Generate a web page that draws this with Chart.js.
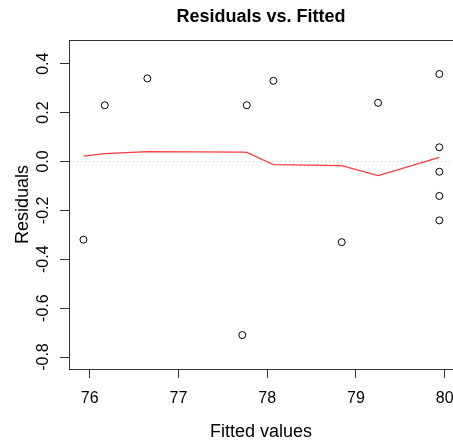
<!DOCTYPE html>
<html>
<head>
<meta charset="utf-8">
<script src="https://cdn.jsdelivr.net/npm/chart.js@4/dist/chart.umd.min.js"></script>
<style>
  html, body { margin: 0; padding: 0; background: #fff; }
  canvas { display: block; }
</style>
</head>
<body>
<canvas id="chart" width="453" height="443"></canvas>
<script>
// Valores ajustados e resíduos do modelo
const fitted = [75.93, 76.17, 76.65, 77.72, 77.77, 78.07, 78.84, 79.25, 79.94, 79.94, 79.94, 79.94, 79.94];
const residuals = [-0.32, 0.23, 0.34, -0.71, 0.23, 0.33, -0.33, 0.24, 0.358, 0.058, -0.042, -0.141, -0.241];

// Curva de suavização (lowess) sobre os valores ajustados
const smoothX = [75.93, 76.17, 76.65, 77.72, 77.77, 78.07, 78.84, 79.25, 79.94];
const smoothY = [0.022, 0.032, 0.040, 0.038, 0.037, -0.013, -0.017, -0.058, 0.017];

// Marcas dos eixos
const xTicks = [76, 77, 78, 79, 80];
const yTicks = [-0.8, -0.6, -0.4, -0.2, 0.0, 0.2, 0.4];

const FONT = '"Liberation Sans", Arial, sans-serif';
const AXIS_COLOR = '#333333';

// Título, moldura, linha de referência em zero e rótulos dos eixos no estilo do R
const rPlotPlugin = {
    id: 'rPlot',
    beforeDatasetsDraw(chart) {
        const { ctx, chartArea, scales } = chart;
        const y0 = scales.y.getPixelForValue(0);
        ctx.save();
        ctx.strokeStyle = '#c8c8c8';
        ctx.lineWidth = 1;
        ctx.setLineDash([1, 3]);
        ctx.beginPath();
        ctx.moveTo(chartArea.left, Math.round(y0) + 0.5);
        ctx.lineTo(chartArea.right, Math.round(y0) + 0.5);
        ctx.stroke();
        ctx.restore();
    },
    afterDraw(chart) {
        const { ctx, chartArea, scales } = chart;
        ctx.save();
        // moldura
        ctx.strokeStyle = AXIS_COLOR;
        ctx.lineWidth = 1;
        ctx.strokeRect(chartArea.left + 0.5, chartArea.top + 0.5,
            chartArea.right - chartArea.left, chartArea.bottom - chartArea.top);

        // título
        ctx.fillStyle = '#000';
        ctx.font = 'bold 18px ' + FONT;
        ctx.textAlign = 'center';
        ctx.textBaseline = 'middle';
        ctx.fillText('Residuals vs. Fitted', (chartArea.left + chartArea.right) / 2, 17);

        // rótulos do eixo x
        ctx.font = '16px ' + FONT;
        scales.x.ticks.forEach(t => {
            ctx.fillText(String(t.value), scales.x.getPixelForValue(t.value), chartArea.bottom + 30);
        });

        // rótulos do eixo y, girados
        scales.y.ticks.forEach(t => {
            const py = scales.y.getPixelForValue(t.value);
            ctx.save();
            ctx.translate(44, py);
            ctx.rotate(-Math.PI / 2);
            ctx.fillText(t.value.toFixed(1), 0, 0);
            ctx.restore();
        });
        ctx.restore();
    }
};

new Chart(document.getElementById('chart'), {
    type: 'scatter',
    data: {
        datasets: [
            {
                label: 'Resíduos',
                data: fitted.map((x, i) => ({ x: x, y: residuals[i] })),
                showLine: false,
                pointStyle: 'circle',
                pointRadius: 3.5,
                pointBackgroundColor: 'rgba(0,0,0,0)',
                pointBorderColor: '#000',
                pointBorderWidth: 1,
                order: 1
            },
            {
                label: 'Suavização',
                data: smoothX.map((x, i) => ({ x: x, y: smoothY[i] })),
                showLine: true,
                borderColor: '#ff3b3b',
                borderWidth: 1.2,
                pointRadius: 0,
                tension: 0,
                order: 2
            }
        ]
    },
    options: {
        responsive: false,
        animation: false,
        layout: { autoPadding: false, padding: { top: 40, left: 0, right: 0, bottom: 0 } },
        plugins: {
            legend: { display: false },
            tooltip: { enabled: false },
            title: { display: false }
        },
        scales: {
            x: {
                type: 'linear',
                min: 75.767,
                max: 80.094,
                afterBuildTicks: (scale) => { scale.ticks = xTicks.map(v => ({ value: v })); },
                afterFit: (scale) => {
                    scale.height = 74;
                    scale.paddingLeft = 0;
                    scale.paddingRight = 0;
                },
                border: { display: false },
                grid: {
                    drawOnChartArea: false,
                    drawTicks: true,
                    tickLength: 9,
                    color: AXIS_COLOR
                },
                ticks: { display: false },
                title: {
                    display: true,
                    text: 'Fitted values',
                    color: '#000',
                    font: { family: FONT, size: 18 },
                    padding: { top: 0, bottom: 0 }
                }
            },
            y: {
                type: 'linear',
                min: -0.849,
                max: 0.497,
                afterBuildTicks: (scale) => { scale.ticks = yTicks.map(v => ({ value: v })); },
                afterFit: (scale) => {
                    scale.width = 69;
                    scale.paddingTop = 0;
                    scale.paddingBottom = 0;
                },
                border: { display: false },
                grid: {
                    drawOnChartArea: false,
                    drawTicks: true,
                    tickLength: 9,
                    color: AXIS_COLOR
                },
                ticks: { display: false },
                title: {
                    display: true,
                    text: 'Residuals',
                    color: '#000',
                    font: { family: FONT, size: 18 },
                    padding: { top: 12, bottom: 0 }
                }
            }
        }
    },
    plugins: [rPlotPlugin]
});
</script>
</body>
</html>
